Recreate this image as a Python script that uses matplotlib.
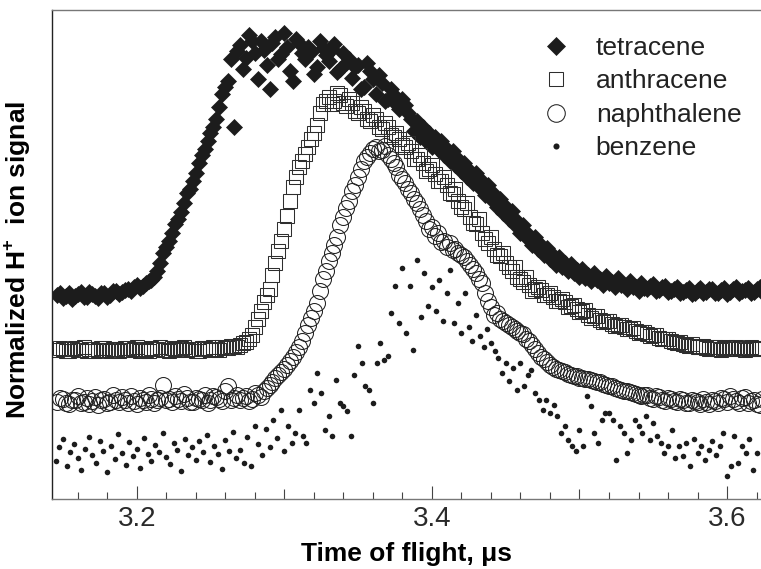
import matplotlib
matplotlib.use('Agg')
import matplotlib.pyplot as plt
from matplotlib.ticker import FixedLocator, MultipleLocator

plt.rcParams['font.family'] = ['Liberation Sans', 'DejaVu Sans']
plt.rcParams['mathtext.fontset'] = 'custom'
plt.rcParams['mathtext.rm'] = 'Liberation Sans'
plt.rcParams['mathtext.bf'] = 'Liberation Sans:bold'

# time base (us), scan 1, for tetracene / anthracene / naphthalene
t_pah = [3.146, 3.150, 3.154, 3.158, 3.162, 3.166, 3.170, 3.174, 3.178, 3.182,
         3.186, 3.190, 3.194, 3.198, 3.202, 3.206, 3.210, 3.214, 3.218, 3.222,
         3.226, 3.230, 3.234, 3.238, 3.242, 3.246, 3.250, 3.254, 3.258, 3.262,
         3.266, 3.270, 3.274, 3.278, 3.282, 3.286, 3.290, 3.294, 3.298, 3.302,
         3.306, 3.310, 3.314, 3.318, 3.322, 3.326, 3.330, 3.334, 3.338, 3.342,
         3.346, 3.350, 3.354, 3.358, 3.362, 3.366, 3.370, 3.374, 3.378, 3.382,
         3.386, 3.390, 3.394, 3.398, 3.402, 3.406, 3.410, 3.414, 3.418, 3.422,
         3.426, 3.430, 3.434, 3.438, 3.442, 3.446, 3.450, 3.454, 3.458, 3.462,
         3.466, 3.470, 3.474, 3.478, 3.482, 3.486, 3.490, 3.494, 3.498, 3.502,
         3.506, 3.510, 3.514, 3.518, 3.522, 3.526, 3.530, 3.534, 3.538, 3.542,
         3.546, 3.550, 3.554, 3.558, 3.562, 3.566, 3.570, 3.574, 3.578, 3.582,
         3.586, 3.590, 3.594, 3.598, 3.602, 3.606, 3.610, 3.614, 3.618, 3.622]

# time base, scan 2 (interleaved)
t_pah2 = [3.148, 3.152, 3.156, 3.160, 3.164, 3.168, 3.172, 3.176, 3.180, 3.184,
          3.188, 3.192, 3.196, 3.200, 3.204, 3.208, 3.212, 3.216, 3.220, 3.224,
          3.228, 3.232, 3.236, 3.240, 3.244, 3.248, 3.252, 3.256, 3.260, 3.264,
          3.268, 3.272, 3.276, 3.280, 3.284, 3.288, 3.292, 3.296, 3.300, 3.304,
          3.308, 3.312, 3.316, 3.320, 3.324, 3.328, 3.332, 3.336, 3.340, 3.344,
          3.348, 3.352, 3.356, 3.360, 3.364, 3.368, 3.372, 3.376, 3.380, 3.384,
          3.388, 3.392, 3.396, 3.400, 3.404, 3.408, 3.412, 3.416, 3.420, 3.424,
          3.428, 3.432, 3.436, 3.440, 3.444, 3.448, 3.452, 3.456, 3.460, 3.464,
          3.468, 3.472, 3.476, 3.480, 3.484, 3.488, 3.492, 3.496, 3.500, 3.504,
          3.508, 3.512, 3.516, 3.520, 3.524, 3.528, 3.532, 3.536, 3.540, 3.544,
          3.548, 3.552, 3.556, 3.560, 3.564, 3.568, 3.572, 3.576, 3.580, 3.584,
          3.588, 3.592, 3.596, 3.600, 3.604, 3.608, 3.612, 3.616, 3.620, 3.624]

# signals, offset for display (arbitrary units)
tetracene = [204, 201, 206, 203, 207, 202, 205, 201, 206, 204, 208, 207,
             210, 212, 211, 216, 219, 228, 246, 258,
             275, 287, 306, 318, 336, 350, 366, 380, 405, 418,
             372, 454, 441, 458, 420, 449, 410, 462, 445, 452,
             418, 456, 440, 447, 432, 451, 438, 455, 430, 436,
             421, 434, 412, 428, 405, 416, 400, 404, 390, 394,
             380, 378, 372, 366, 362, 358, 350, 348, 340, 336,
             328, 326, 318, 314, 305, 300, 292, 288, 278, 274,
             264, 262, 254, 251, 244, 242, 236, 235, 229, 230,
             224, 226, 220, 223, 217, 221, 214, 218, 212, 216,
             210, 215, 209, 213, 208, 212, 207, 211, 206, 211,
             207, 210, 206, 211, 207, 212, 208, 211, 207, 212]

tetracene2 = [206, 203, 200, 205, 202, 207, 203, 206, 202, 208, 205, 209,
              208, 214, 213, 218, 222, 236, 252, 266,
              280, 296, 310, 326, 344, 358, 372, 392, 412, 440,
              448, 430, 464, 446, 458, 434, 456, 440, 466, 428,
              460, 446, 452, 425, 458, 444, 450, 427, 446, 440,
              432, 410, 436, 420, 424, 398, 410, 395, 400, 386,
              368, 362, 358, 352, 350, 344, 338, 334, 328, 322,
              316, 312, 304, 300, 292, 286, 280, 274, 266, 262,
              254, 250, 244, 240, 234, 232, 228, 226, 222, 221,
              218, 219, 214, 216, 212, 214, 210, 212, 208, 211,
              213, 208, 212, 207, 210, 206, 209, 205, 209, 206,
              210, 206, 209, 205, 210, 206, 209, 206, 210, 207]

anthracene = [149, 150, 148, 151, 149, 148, 150, 149, 151, 148,
              150, 149, 151, 150, 148, 149, 151, 150, 149, 148,
              150, 151, 149, 150, 148, 151, 149, 150, 152, 151,
              153, 154, 157, 164, 180, 197, 210, 236, 258, 283,
              312, 332, 345, 360, 374, 395, 402, 398, 404, 393,
              396, 386, 388, 378, 380, 370, 372, 362, 360, 352,
              348, 340, 336, 330, 325, 318, 314, 305, 298, 290,
              282, 275, 266, 256, 250, 243, 236, 228, 222, 217,
              214, 210, 209, 204, 202, 198, 197, 193, 190, 188,
              184, 183, 179, 178, 175, 174, 172, 170, 168, 167,
              165, 164, 161, 160, 158, 156, 155, 153, 153, 152,
              151, 152, 150, 151, 150, 152, 151, 150, 151, 150]

anthracene2 = [151, 148, 150, 149, 152, 150, 148, 151, 149, 150,
               148, 151, 149, 152, 150, 148, 150, 152, 149, 151,
               149, 152, 150, 148, 151, 150, 152, 149, 151, 153,
               152, 156, 160, 172, 188, 204, 224, 248, 270, 298,
               322, 338, 352, 366, 386, 398, 395, 406, 396, 400,
               388, 392, 380, 384, 372, 376, 364, 366, 354, 356,
               340, 344, 328, 334, 318, 322, 306, 310, 292, 296,
               276, 280, 260, 262, 244, 246, 232, 232, 220, 222,
               208, 212, 204, 206, 198, 200, 192, 194, 187, 189,
               181, 183, 177, 178, 173, 174, 170, 171, 166, 167,
               163, 164, 160, 160, 157, 157, 154, 155, 152, 153,
               150, 152, 149, 152, 150, 151, 149, 152, 150, 151]

naphthalene = [97, 100, 95, 99, 96, 101, 98, 94, 100, 97,
               99, 102, 96, 98, 101, 97, 100, 99, 114, 100,
               103, 98, 101, 97, 100, 104, 99, 102, 98, 113,
               101, 99, 103, 100, 104, 108, 114, 121, 127, 134,
               142, 152, 166, 181, 196, 220, 238, 254, 274, 291,
               308, 322, 338, 346, 352, 349, 344, 336, 324, 316,
               306, 296, 284, 270, 263, 257, 252, 249, 246, 242,
               234, 226, 216, 198, 184, 180, 176, 172, 168, 165,
               158, 150, 142, 137, 132, 129, 127, 124, 123, 121,
               120, 118, 117, 114, 113, 110, 108, 107, 105, 103,
               104, 100, 102, 98, 100, 97, 99, 96, 98, 95,
               97, 99, 96, 100, 103, 98, 101, 96, 99, 94]

naphthalene2 = [101, 96, 99, 103, 97, 95, 102, 99, 96, 104,
                97, 99, 103, 95, 99, 104, 96, 101, 99, 97,
                100, 105, 97, 101, 99, 96, 103, 100, 108, 99,
                104, 101, 98, 106, 102, 111, 117, 124, 130, 138,
                147, 158, 174, 188, 208, 228, 246, 262, 282, 298,
                314, 330, 342, 350, 348, 353, 340, 332, 320, 310,
                300, 290, 278, 272, 266, 258, 256, 250, 244, 238,
                230, 220, 206, 192, 186, 178, 174, 170, 166, 160,
                154, 146, 140, 134, 130, 128, 125, 123, 121, 120,
                119, 117, 115, 113, 111, 109, 108, 106, 104, 104,
                101, 103, 99, 101, 98, 100, 96, 99, 97, 100,
                95, 98, 101, 97, 100, 96, 102, 98, 95, 100]

# benzene has a finer time base
t_benz = [3.1450, 3.1475, 3.1500, 3.1525, 3.1550, 3.1575, 3.1600, 3.1625, 3.1650, 3.1675,
          3.1700, 3.1725, 3.1750, 3.1775, 3.1800, 3.1825, 3.1850, 3.1875, 3.1900, 3.1925,
          3.1950, 3.1975, 3.2000, 3.2025, 3.2050, 3.2075, 3.2100, 3.2125, 3.2150, 3.2175,
          3.2200, 3.2225, 3.2250, 3.2275, 3.2300, 3.2325, 3.2350, 3.2375, 3.2400, 3.2425,
          3.2450, 3.2475, 3.2500, 3.2525, 3.2550, 3.2575, 3.2600, 3.2625, 3.2650, 3.2675,
          3.2700, 3.2725, 3.2750, 3.2775, 3.2800, 3.2825, 3.2850, 3.2875, 3.2900, 3.2925,
          3.2950, 3.2975, 3.3000, 3.3025, 3.3050, 3.3075, 3.3100, 3.3125, 3.3150, 3.3175,
          3.3200, 3.3225, 3.3250, 3.3275, 3.3300, 3.3325, 3.3350, 3.3375, 3.3400, 3.3425,
          3.3450, 3.3475, 3.3500, 3.3525, 3.3550, 3.3575, 3.3600, 3.3625, 3.3650, 3.3675,
          3.3700, 3.3725, 3.3750, 3.3775, 3.3800, 3.3825, 3.3850, 3.3875, 3.3900, 3.3925,
          3.3950, 3.3975, 3.4000, 3.4025, 3.4050, 3.4075, 3.4100, 3.4125, 3.4150, 3.4175,
          3.4200, 3.4225, 3.4250, 3.4275, 3.4300, 3.4325, 3.4350, 3.4375, 3.4400, 3.4425,
          3.4450, 3.4475, 3.4500, 3.4525, 3.4550, 3.4575, 3.4600, 3.4625, 3.4650, 3.4675,
          3.4700, 3.4725, 3.4750, 3.4775, 3.4800, 3.4825, 3.4850, 3.4875, 3.4900, 3.4925,
          3.4950, 3.4975, 3.5000, 3.5025, 3.5050, 3.5075, 3.5100, 3.5125, 3.5150, 3.5175,
          3.5200, 3.5225, 3.5250, 3.5275, 3.5300, 3.5325, 3.5350, 3.5375, 3.5400, 3.5425,
          3.5450, 3.5475, 3.5500, 3.5525, 3.5550, 3.5575, 3.5600, 3.5625, 3.5650, 3.5675,
          3.5700, 3.5725, 3.5750, 3.5775, 3.5800, 3.5825, 3.5850, 3.5875, 3.5900, 3.5925,
          3.5950, 3.5975, 3.6000, 3.6025, 3.6050, 3.6075, 3.6100, 3.6125, 3.6150, 3.6175,
          3.6200]

benzene = [38, 52, 60, 33, 47, 55, 41, 29, 50, 62,
           44, 36, 58, 48, 27, 53, 40, 65, 46, 34,
           57, 43, 50, 31, 61, 45, 38, 54, 47, 66,
           42, 35, 56, 49, 28, 60, 44, 52, 39, 58,
           47, 64, 37, 53, 45, 30, 59, 48, 67, 41,
           49, 36, 62, 33, 73, 55, 44, 70, 52, 79,
           61, 89, 48, 73, 56, 66, 89, 63, 56, 109,
           96, 126, 106, 69, 83, 63, 119, 96, 93, 88,
           63, 124, 153, 136, 113, 109, 96, 136, 156, 139,
           143, 186, 213, 176, 231, 166, 213, 149, 239, 182,
           226, 193, 212, 188, 219, 178, 206, 229, 176, 196,
           166, 206, 172, 158, 184, 163, 152, 170, 156, 148,
           141, 126, 136, 118, 131, 109, 136, 113, 124, 129,
           106, 99, 89, 99, 86, 94, 83, 66, 73, 59,
           53, 48, 69, 53, 103, 93, 66, 56, 79, 86,
           86, 79, 39, 73, 66, 46, 59, 79, 73, 66,
           83, 59, 76, 63, 56, 46, 53, 69, 41, 53,
           43, 56, 33, 60, 46, 53, 39, 49, 58, 44,
           53, 66, 23, 33, 63, 36, 53, 46, 60, 29,
           46]

fig = plt.figure(figsize=(7.61, 5.69), dpi=100)
ax = fig.add_axes([0.0683, 0.123, 0.9317, 0.8594])

dia = dict(marker='D', ls='none', ms=8.5, color='#1c1c1c', mec='#1c1c1c', mew=0.5)
sq = dict(marker='s', ls='none', ms=9.5, mfc='none', mec='#2e2e2e', mew=0.75)
circ = dict(marker='o', ls='none', ms=11.5, mfc='none', mec='#222222', mew=0.75)

ax.plot(t_pah, tetracene, label='tetracene', **dia)
ax.plot(t_pah2, tetracene2, **dia)
ax.plot(t_pah, anthracene, label='anthracene', **sq)
ax.plot(t_pah2, anthracene2, **sq)
ax.plot(t_pah, naphthalene, label='naphthalene', **circ)
ax.plot(t_pah2, naphthalene2, **circ)
ax.plot(t_benz, benzene, 'o', ms=4.0, color='#1c1c1c', mew=0, label='benzene')

ax.set_xlim(3.1426, 3.623)
ax.set_ylim(0, 489)

ax.xaxis.set_major_locator(FixedLocator([3.2, 3.3, 3.4, 3.5, 3.6]))
ax.xaxis.set_minor_locator(MultipleLocator(0.02))
ax.set_xticklabels(['3.2', '', '3.4', '', '3.6'])
ax.set_yticks([])
ax.tick_params(axis='x', which='major', direction='in', length=7.5, width=0.8,
               labelsize=20, pad=5, labelcolor='#2a2a2a', color='#444444')
ax.tick_params(axis='x', which='minor', direction='in', length=5, width=0.8, color='#444444')
# longer ticks at the labelled positions
for loc, tick in zip([3.2, 3.3, 3.4, 3.5, 3.6], ax.xaxis.get_major_ticks()):
    if loc in (3.2, 3.4, 3.6):
        tick.tick1line.set_markersize(9.5)

ax.spines['right'].set_visible(False)
ax.spines['top'].set_color('#777777')
ax.spines['bottom'].set_color('#777777')
ax.spines['left'].set_color('#222222')
for s in ('top', 'bottom', 'left'):
    ax.spines[s].set_linewidth(1.0)

ax.set_xlabel('Time of flight, \u03bcs', fontsize=19, fontweight='bold', labelpad=7.5)
ax.set_ylabel(r'Normalized H$^{\mathbf{+}}$  ion signal', fontsize=19, fontweight='bold')
ax.yaxis.set_label_coords(-0.028, 0.49)

leg = ax.legend(loc='upper left', bbox_to_anchor=(0.6925, 0.947), frameon=False,
                fontsize=19, markerscale=1.1, handletextpad=1.0, labelspacing=0.36,
                borderpad=0, borderaxespad=0, handlelength=1.0)
for txt in leg.get_texts():
    txt.set_color('#222222')

plt.savefig('out.png', dpi=100)
